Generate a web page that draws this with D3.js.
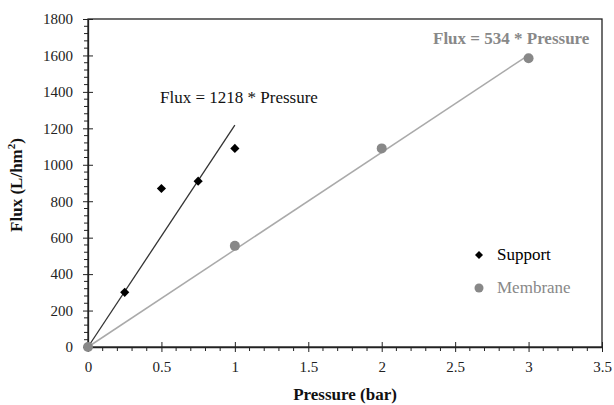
<!DOCTYPE html>
<html><head><meta charset="utf-8">
<script src="https://cdn.jsdelivr.net/npm/d3@7"></script>
<style>body{margin:0;background:#fff}svg{display:block}</style>
</head><body>
<svg id="chart" width="614" height="405" font-family="Liberation Serif"></svg>
<script>
const supportP = [0, 0.25, 0.5, 0.75, 1.0];
const supportF = [0, 300, 870, 910, 1090];
const membraneP = [0, 1, 2, 3];
const membraneF = [0, 555, 1090, 1585];
const supportSlope = 1218, supportFitMax = 1.0;
const membraneSlope = 534, membraneFitMax = 3.0;
const xTicks = [0, 0.5, 1, 1.5, 2, 2.5, 3, 3.5];
const yTicks = [0, 200, 400, 600, 800, 1000, 1200, 1400, 1600, 1800];
const xMinorTicks = [0.1, 0.2, 0.3, 0.4, 0.6, 0.7, 0.8, 0.9, 1.1, 1.2, 1.3, 1.4, 1.6, 1.7, 1.8, 1.9,
  2.1, 2.2, 2.3, 2.4, 2.6, 2.7, 2.8, 2.9, 3.1, 3.2, 3.3, 3.4];
const yMinorTicks = [40, 80, 120, 160, 240, 280, 320, 360, 440, 480, 520, 560, 640, 680, 720, 760,
  840, 880, 920, 960, 1040, 1080, 1120, 1160, 1240, 1280, 1320, 1360, 1440, 1480, 1520, 1560,
  1640, 1680, 1720, 1760];

const root = d3.select("#chart");
const W = 614, H = 405;
const margin = { left: 88, right: 12, top: 19, bottom: 58 };
const xs = d3.scaleLinear().domain([0, 3.5]).range([margin.left, W - margin.right]);
const ys = d3.scaleLinear().domain([0, 1800]).range([H - margin.bottom, margin.top]);
const INK = "#222";

// plot border
root.append("rect")
  .attr("x", xs(0)).attr("y", ys(1800))
  .attr("width", xs(3.5) - xs(0)).attr("height", ys(0) - ys(1800))
  .attr("fill", "none").attr("stroke", INK).attr("stroke-width", 1.3);

// minor ticks (outside)
root.append("g").selectAll("line").data(xMinorTicks).join("line")
  .attr("x1", d => xs(d)).attr("x2", d => xs(d))
  .attr("y1", ys(0)).attr("y2", ys(0) + 4).attr("stroke", INK);
root.append("g").selectAll("line").data(yMinorTicks).join("line")
  .attr("y1", d => ys(d)).attr("y2", d => ys(d))
  .attr("x1", xs(0)).attr("x2", xs(0) - 4).attr("stroke", INK);

// major axes
const xAxis = root.append("g").attr("transform", `translate(0,${ys(0)})`)
  .call(d3.axisBottom(xs).tickValues(xTicks).tickSize(5).tickPadding(9).tickSizeOuter(0).tickFormat(d3.format("")));
const yAxis = root.append("g").attr("transform", `translate(${xs(0)},0)`)
  .call(d3.axisLeft(ys).tickValues(yTicks).tickSize(5).tickPadding(10).tickSizeOuter(0).tickFormat(d3.format("")));
[xAxis, yAxis].forEach(g => {
  g.attr("font-family", "Liberation Serif").attr("font-size", 15);
  g.select(".domain").attr("stroke", INK).attr("stroke-width", 1.3);
  g.selectAll(".tick line").attr("stroke", INK);
  g.selectAll(".tick text").attr("fill", INK);
});
xAxis.selectAll(".tick line").attr("y1", -5);
yAxis.selectAll(".tick line").attr("x1", 5);

// fit lines
root.append("line").attr("x1", xs(0)).attr("y1", ys(0))
  .attr("x2", xs(membraneFitMax)).attr("y2", ys(membraneSlope * membraneFitMax))
  .attr("stroke", "#aaa").attr("stroke-width", 1.5);
root.append("line").attr("x1", xs(0)).attr("y1", ys(0))
  .attr("x2", xs(supportFitMax)).attr("y2", ys(supportSlope * supportFitMax))
  .attr("stroke", "#333").attr("stroke-width", 1.3);

// points
root.append("g").selectAll("path").data(supportP.map((p, i) => [p, supportF[i]])).join("path")
  .attr("d", d3.symbol().type(d3.symbolSquare).size(42))
  .attr("transform", d => `translate(${xs(d[0])},${ys(d[1])}) rotate(45)`)
  .attr("fill", "#000");
root.append("g").selectAll("circle").data(membraneP.map((p, i) => [p, membraneF[i]])).join("circle")
  .attr("cx", d => xs(d[0])).attr("cy", d => ys(d[1])).attr("r", 5)
  .attr("fill", "#888");

// annotations
root.append("text").attr("x", 160).attr("y", 103).attr("font-size", 17).attr("fill", "#111")
  .text("Flux = 1218 * Pressure");
root.append("text").attr("x", 433).attr("y", 44).attr("font-size", 17)
  .attr("font-weight", "bold").attr("fill", "#888").text("Flux = 534 * Pressure");

// legend
root.append("path").attr("d", d3.symbol().type(d3.symbolSquare).size(32))
  .attr("transform", "translate(479,255) rotate(45)").attr("fill", "#000");
root.append("text").attr("x", 497).attr("y", 260).attr("font-size", 17)
  .attr("fill", "#000").text("Support");
root.append("circle").attr("cx", 479).attr("cy", 288).attr("r", 4.5).attr("fill", "#888");
root.append("text").attr("x", 497).attr("y", 293).attr("font-size", 17)
  .attr("fill", "#888").text("Membrane");

// axis titles
root.append("text").attr("x", 345).attr("y", 400).attr("text-anchor", "middle")
  .attr("font-size", 17).attr("font-weight", "bold").attr("fill", "#111").text("Pressure (bar)");
const yt = root.append("text").attr("transform", "translate(22,185) rotate(-90)").attr("text-anchor", "middle")
  .attr("font-size", 17).attr("font-weight", "bold").attr("fill", "#111");
yt.append("tspan").text("Flux (L/hm");
yt.append("tspan").attr("font-size", 11).attr("dy", -7).text("2");
yt.append("tspan").attr("dy", 7).text(")");
</script>
</body></html>
